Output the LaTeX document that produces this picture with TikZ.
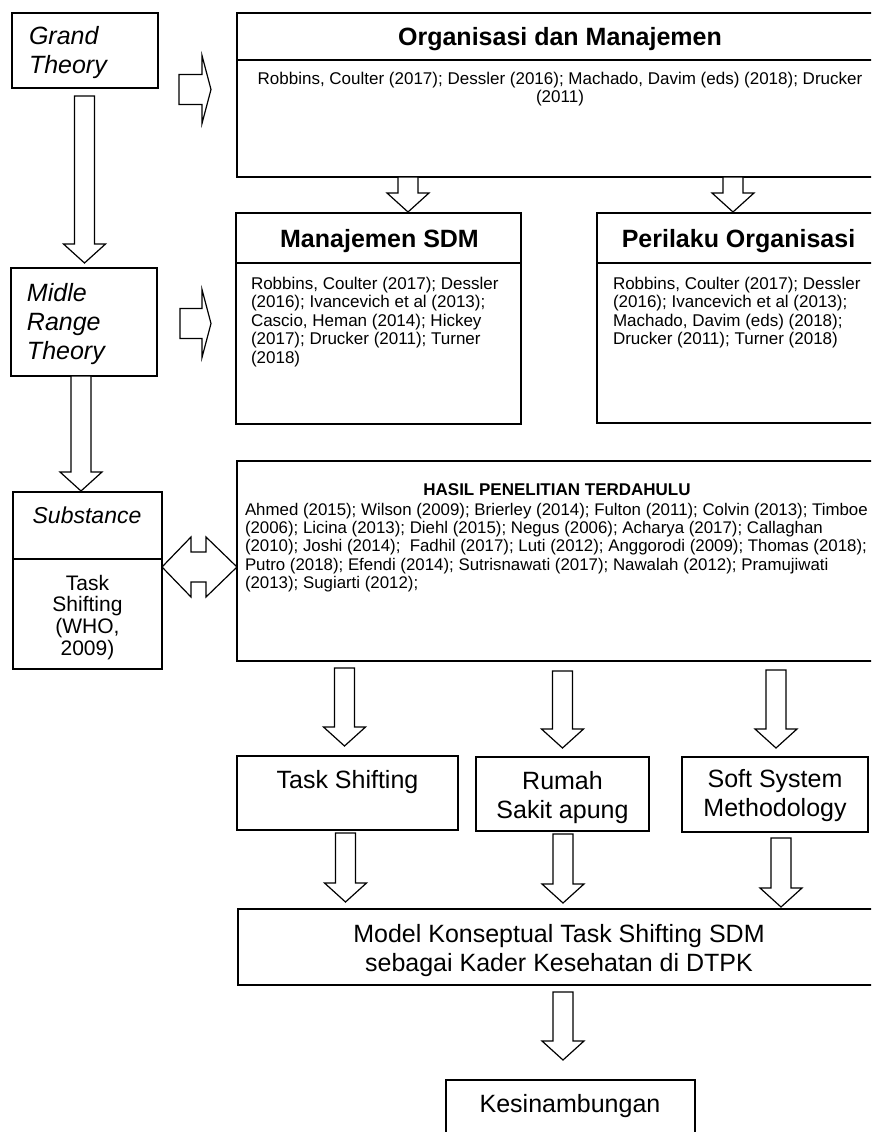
\documentclass[tikz,border=0pt]{standalone}
\usepackage{fontspec}
\setmainfont{Liberation Sans}
\usetikzlibrary{calc}

% font sizes (1pt = 1 unit of the drawing grid)
\newcommand\dgMain{\fontsize{25}{29}\selectfont}
\newcommand\dgHead{\fontsize{25}{29}\selectfont\bfseries}
\newcommand\dgRef{\fontsize{17}{18.5}\selectfont}
\newcommand\dgSmallHead{\fontsize{17}{18.5}\selectfont\bfseries}
\newcommand\dgWho{\fontsize{21}{21.7}\selectfont}

% rectangle node from its top-left and bottom-right corners
\newcommand\boxat[5]{%
  \node[box, anchor=north west, minimum width={(#4-#2)*1pt}, minimum height={(#5-#3)*1pt}] (#1) at (#2,#3) {};}

% downward block arrow: x centre, source, gap below source, target, gap above target
\newcommand\blockdown[5]{%
  \draw[blockarrow] let \p1=(#2.south), \p2=(#4.north) in
    ({(#1-10)*1pt},{\y1-#3pt}) -- ({(#1+10)*1pt},{\y1-#3pt}) --
    ({(#1+10)*1pt},{\y2+#5pt+19pt}) -- ({(#1+21)*1pt},{\y2+#5pt+19pt}) --
    ({#1*1pt},{\y2+#5pt}) --
    ({(#1-21)*1pt},{\y2+#5pt+19pt}) -- ({(#1-10)*1pt},{\y2+#5pt+19pt}) -- cycle;}

% rightward block arrow with a short head: source, gap, target, gap, y centre
\newcommand\blockright[5]{%
  \draw[blockarrow] let \p1=(#1.east), \p2=(#3.west) in
    ({\x1+#2pt},{-(#5-15)*1pt}) -- ({\x2-#4pt-9pt},{-(#5-15)*1pt}) --
    ({\x2-#4pt-9pt},{-(#5-34)*1pt}) -- ({\x2-#4pt},{-#5*1pt}) --
    ({\x2-#4pt-9pt},{-(#5+34)*1pt}) -- ({\x2-#4pt-9pt},{-(#5+15)*1pt}) --
    ({\x1+#2pt},{-(#5+15)*1pt}) -- cycle;}

\tikzset{
  box/.style={draw, line width=1.3pt, inner sep=0pt, outer sep=0pt},
  blockarrow/.style={draw, line width=1.2pt, fill=white, line join=miter},
  divider/.style={line width=1.3pt},
  txt/.style={inner sep=0pt, outer sep=0pt},
}

\begin{document}
\begin{tikzpicture}[x=1pt, y=-1pt]
\useasboundingbox (0,0) rectangle (871,1132);
\clip (0,0) rectangle (871,1132);

% ---- left column
\boxat{grand}{12}{13}{158}{88}
\node[txt, anchor=north west, align=left, font=\dgMain\itshape] (grandtxt) at (29,26) {Grand\\Theory};

\boxat{midle}{11}{268}{157}{376}
\node[txt, anchor=north west, align=left, font=\dgMain\itshape] (midletxt) at (27,283) {Midle\\Range\\Theory};

\boxat{sub}{13}{492}{162}{669}
\draw[divider] (sub.west |- 0,559) -- (sub.east |- 0,559);
\node[txt, font=\fontsize{23}{27}\selectfont\itshape] (subtxt) at (87,515) {Substance};
\node[txt, anchor=north, align=center, font=\dgWho] (whotxt) at (87.5,575) {Task\\Shifting\\(WHO,\\2009)};

% ---- theory boxes
\boxat{org}{237}{13}{890}{177}
\draw[divider] (org.west |- 0,60) -- (org.east |- 0,60);
\node[txt, anchor=base, font=\dgHead] (orgtitle) at (560,46) {Organisasi dan Manajemen};
\node[txt, anchor=north, align=center, font=\dgRef] (orgref) at (560,72)
  {Robbins, Coulter (2017); Dessler (2016); Machado, Davim (eds) (2018); Drucker\\(2011)};

\boxat{sdm}{236}{213}{521}{424}
\draw[divider] (sdm.west |- 0,263) -- (sdm.east |- 0,263);
\node[txt, anchor=base, font=\dgHead] (sdmtitle) at (379.5,247) {Manajemen SDM};
\node[txt, anchor=north west, align=left, font=\dgRef] (sdmref) at (251,277)
  {Robbins, Coulter (2017); Dessler\\(2016); Ivancevich et al (2013);\\Cascio, Heman (2014); Hickey\\(2017); Drucker (2011); Turner\\(2018)};

\boxat{peri}{597}{213}{890}{423}
\draw[divider] (peri.west |- 0,263) -- (peri.east |- 0,263);
\node[txt, anchor=base, font=\dgHead] (perititle) at (738.5,247) {Perilaku Organisasi};
\node[txt, anchor=north west, align=left, font=\dgRef] (periref) at (613,277)
  {Robbins, Coulter (2017); Dessler\\(2016); Ivancevich et al (2013);\\Machado, Davim (eds) (2018);\\Drucker (2011); Turner (2018)};

\boxat{hasil}{237}{461}{890}{661}
\node[txt, font=\dgSmallHead] (hasiltitle) at (557,490) {HASIL PENELITIAN TERDAHULU};
\node[txt, anchor=north west, align=left, font=\fontsize{16.85}{18.3}\selectfont] (hasilref) at (245,503)
  {Ahmed (2015); Wilson (2009); Brierley (2014); Fulton (2011); Colvin (2013); Timboe\\
   (2006); Licina (2013); Diehl (2015); Negus (2006); Acharya (2017); Callaghan\\
   (2010); Joshi (2014);\ \ Fadhil (2017); Luti (2012); Anggorodi (2009); Thomas (2018);\\
   Putro (2018); Efendi (2014); Sutrisnawati (2017); Nawalah (2012); Pramujiwati\\
   (2013); Sugiarti (2012);};

% ---- approaches
\boxat{ts}{237}{756}{458}{830}
\node[txt, anchor=base, font=\dgMain] (tstxt) at (347.5,788) {Task Shifting};

\boxat{rs}{476}{757}{649}{831}
\node[txt, anchor=north, align=center, font=\dgMain] (rstxt) at (562.5,771) {Rumah\\Sakit apung};

\boxat{soft}{682}{757}{868}{832}
\node[txt, anchor=north, align=center, font=\dgMain] (softtxt) at (775,769) {Soft System\\Methodology};

% ---- result
\boxat{model}{238}{909}{890}{985}
\node[txt, anchor=north, align=center, font=\dgMain] (modeltxt) at (559,924)
  {Model Konseptual Task Shifting SDM\\sebagai Kader Kesehatan di DTPK};

\boxat{kes}{446}{1080}{695}{1160}
\node[txt, anchor=base, font=\dgMain] (kestxt) at (570,1112) {Kesinambungan};

% ---- connectors
\blockdown{84.5}{grand}{8}{midle}{5}
\blockdown{81}{midle}{0}{sub}{1}
\blockright{grand}{21}{org}{26}{89.5}
\blockright{midle}{23}{sdm}{25}{323.5}
\blockdown{408}{org}{0}{sdm}{1}
\blockdown{733}{org}{0}{peri}{1}

\draw[blockarrow] let \p1=(sub.east), \p2=(hasil.west) in
  (\x1,-567pt) -- ({\x1+29pt},-537pt) -- ({\x1+29pt},-552pt) --
  ({\x2-31pt},-552pt) -- ({\x2-31pt},-537pt) -- (\x2,-567pt) --
  ({\x2-31pt},-597pt) -- ({\x2-31pt},-582pt) -- ({\x1+29pt},-582pt) --
  ({\x1+29pt},-597pt) -- cycle;

\blockdown{344.5}{hasil}{7}{ts}{10}
\blockdown{562.5}{hasil}{10}{rs}{9}
\blockdown{776}{hasil}{9}{soft}{9}
\blockdown{345.5}{ts}{3}{model}{7}
\blockdown{563}{rs}{3}{model}{6}
\blockdown{781}{soft}{6}{model}{2}
\blockdown{563}{model}{7}{kes}{20}
\end{tikzpicture}
\end{document}
